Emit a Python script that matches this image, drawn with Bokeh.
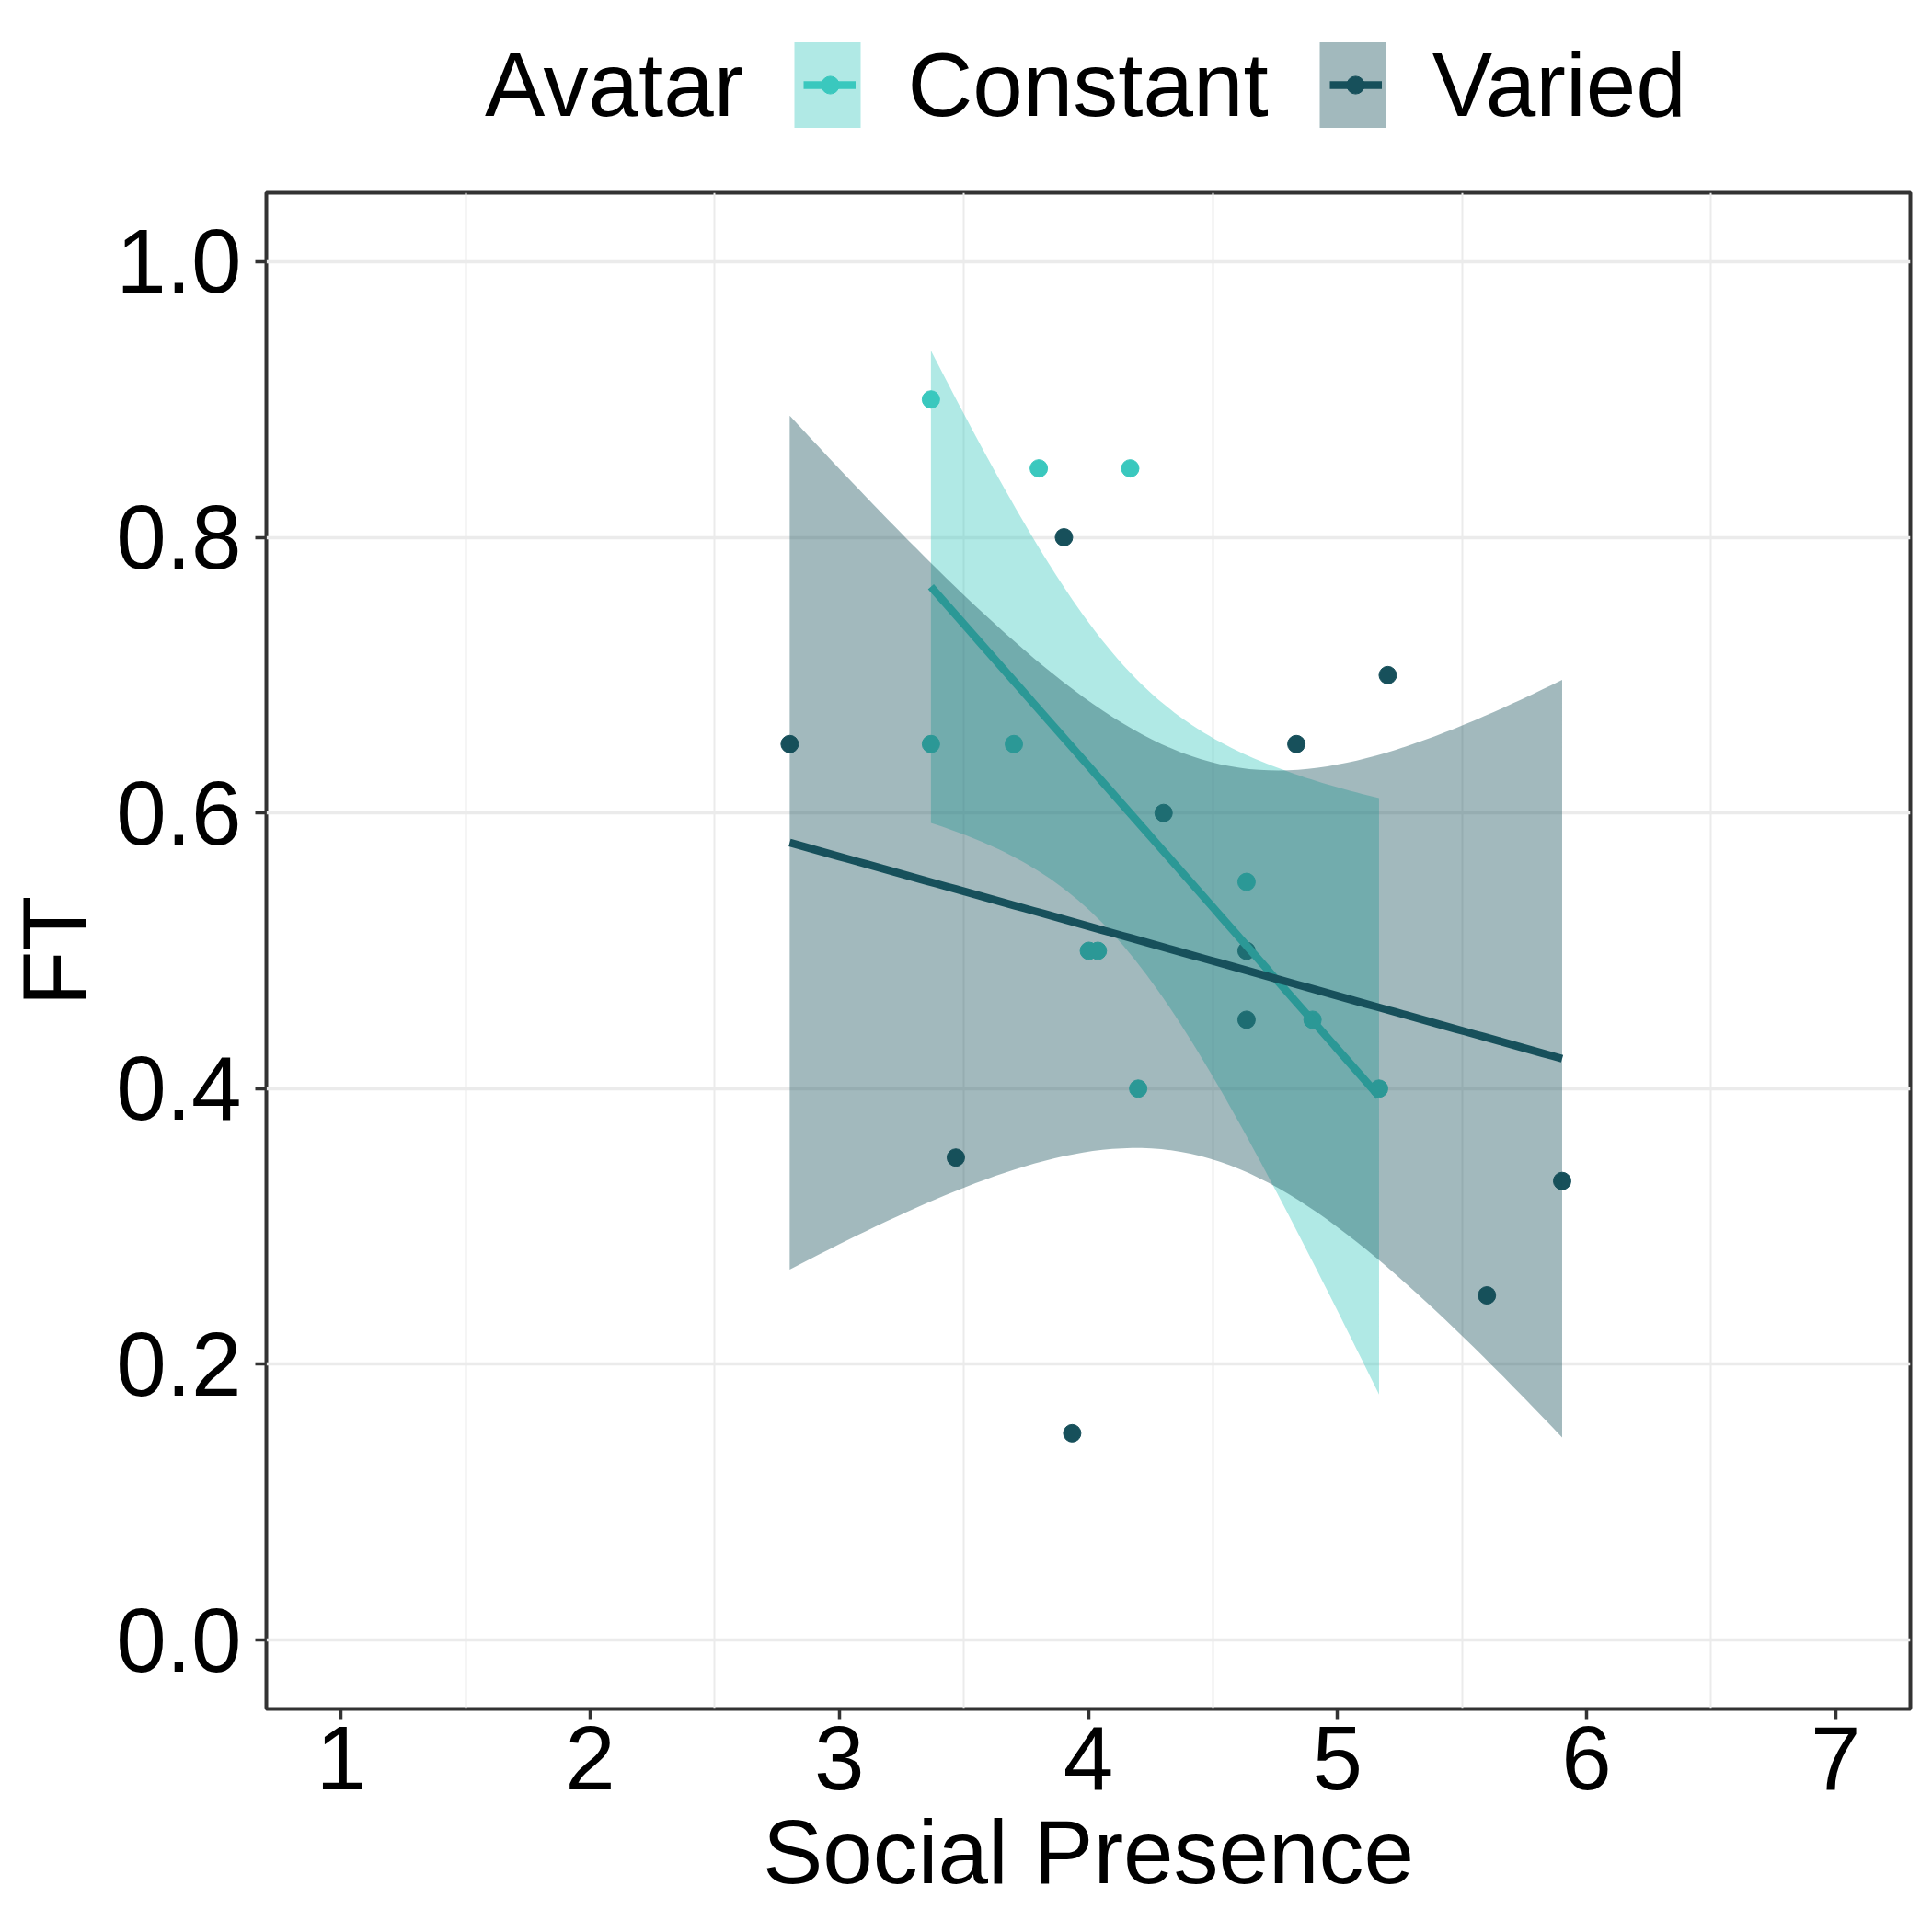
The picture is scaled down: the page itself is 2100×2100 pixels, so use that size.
import numpy as np
from bokeh.plotting import figure
from bokeh.layouts import column
from bokeh.models import Range1d, FixedTicker, PrintfTickFormatter, Legend, LegendItem
from bokeh.core.properties import value
from bokeh.embed import file_html
from bokeh.resources import INLINE

# ---- data ----
legend_title = "Avatar"
groups = ["Constant", "Varied"]
constant_x = [3.368, 3.801, 4.168, 3.368, 3.701, 4.002, 4.038, 4.200, 4.635, 4.900, 5.167]
constant_y = [0.90, 0.85, 0.85, 0.65, 0.65, 0.50, 0.50, 0.40, 0.55, 0.45, 0.40]
varied_x = [2.801, 3.902, 5.202, 4.835, 4.302, 4.635, 4.635, 3.468, 3.935, 5.600, 5.902]
varied_y = [0.65, 0.80, 0.70, 0.65, 0.60, 0.50, 0.45, 0.35, 0.15, 0.25, 0.333]
x_ticks = [1, 2, 3, 4, 5, 6, 7]
x_minor_grid = [1.5, 2.5, 3.5, 4.5, 5.5, 6.5]
y_ticks = [0.0, 0.2, 0.4, 0.6, 0.8, 1.0]

# ---- style / layout ----
FONT = "Liberation Sans"
FS = "98px"
COL_CONST = "#3AC8BE"
COL_VAR = "#17505B"
T975 = {9: 2.2622, 8: 2.3060, 10: 2.2281}
W = 2092
LEG_H = 180
FRAME_LEFT = 289
LEG_LEFT = 395          # left edge of the legend block (page px)
LEG_VY = LEG_H - 150    # legend bottom offset inside the strip
KEY_GW, KEY_GH = 90, 116
KEY_CENTERS = [901.5, 1473.0]   # centres of the two legend keys (page px)


def lm_band(x, y, n=80):
    x = np.asarray(x, float)
    y = np.asarray(y, float)
    b, a = np.polyfit(x, y, 1)
    xs = np.linspace(x.min(), x.max(), n)
    fit = a + b * xs
    resid = y - (a + b * x)
    df = len(x) - 2
    s = np.sqrt((resid ** 2).sum() / df)
    sxx = ((x - x.mean()) ** 2).sum()
    se = s * np.sqrt(1.0 / len(x) + (xs - x.mean()) ** 2 / sxx)
    t = T975[df]
    return xs, fit, fit - t * se, fit + t * se


def draw_group(fig, gx, gy, color):
    return fig.scatter(gx, gy, size=19, color=color)


def draw_smooth(fig, gx, gy, color):
    xs, fit, lo, hi = lm_band(gx, gy)
    band = fig.varea(x=xs, y1=lo, y2=hi, fill_color=color, fill_alpha=0.4)
    line = fig.line(xs, fit, line_width=8.5, line_color=color)
    return band, line


# ================= main plot =================
p = figure(width=W, height=2092 - LEG_H, output_backend="svg", toolbar_location=None,
           x_range=Range1d(0.7, 7.3), y_range=Range1d(-0.05, 1.05),
           min_border_left=FRAME_LEFT, min_border_right=16, min_border_top=209 - LEG_H,
           min_border_bottom=235)
p.background_fill_color = "white"
p.border_fill_color = "white"
p.outline_line_color = "#333333"
p.outline_line_width = 4

p.xgrid.ticker = FixedTicker(ticks=x_minor_grid)
p.xgrid.grid_line_color = "#EBEBEB"
p.xgrid.grid_line_width = 2
p.ygrid.ticker = FixedTicker(ticks=y_ticks)
p.ygrid.grid_line_color = "#EBEBEB"
p.ygrid.grid_line_width = 3.5

p.xaxis.ticker = FixedTicker(ticks=x_ticks)
p.yaxis.ticker = FixedTicker(ticks=y_ticks)
p.xaxis.formatter = PrintfTickFormatter(format="%d")
p.yaxis.formatter = PrintfTickFormatter(format="%.1f")
for ax in (p.xaxis[0], p.yaxis[0]):
    ax.axis_line_color = None
    ax.major_tick_line_color = "#333333"
    ax.major_tick_line_width = 3.5
    ax.major_tick_out = 12
    ax.major_tick_in = 0
    ax.minor_tick_line_color = None
    ax.major_label_text_font = FONT
    ax.major_label_text_font_size = FS
    ax.major_label_text_color = "black"
    ax.axis_label_text_font = FONT
    ax.axis_label_text_font_size = FS
    ax.axis_label_text_font_style = "normal"
    ax.axis_label_text_color = "black"
p.xaxis.axis_label = "Social Presence"
p.yaxis.axis_label = "FT"
p.xaxis.major_label_standoff = 7
p.xaxis.axis_label_standoff = 10
p.yaxis.major_label_standoff = 15
p.yaxis.axis_label_standoff = 9

# points first, ribbons over them (as in the reference)
draw_group(p, constant_x, constant_y, COL_CONST)
draw_group(p, varied_x, varied_y, COL_VAR)
draw_smooth(p, constant_x, constant_y, COL_CONST)
draw_smooth(p, varied_x, varied_y, COL_VAR)

# ================= legend strip (above the panel) =================
leg = figure(width=W, height=LEG_H, output_backend="svg", toolbar_location=None,
             x_axis_location=None, y_axis_location=None, min_border=0,
             x_range=Range1d(100, 101), y_range=Range1d(100, 101))
leg.outline_line_color = None
leg.background_fill_color = "white"
leg.border_fill_color = "white"
leg.xgrid.visible = False
leg.ygrid.visible = False

# the same glyphs, out of this strip's view: only their legend keys show
k_pts_c = draw_group(leg, constant_x, constant_y, COL_CONST)
k_pts_v = draw_group(leg, varied_x, varied_y, COL_VAR)
k_band_c, k_line_c = draw_smooth(leg, constant_x, constant_y, COL_CONST)
k_band_v, k_line_v = draw_smooth(leg, varied_x, varied_y, COL_VAR)

main_legend = Legend(
    items=[
        LegendItem(label=value(legend_title), renderers=[]),
        LegendItem(label=value(groups[0]), renderers=[k_band_c]),
        LegendItem(label=value(groups[1]), renderers=[k_band_v]),
    ],
    orientation="horizontal",
    location=(LEG_LEFT - FRAME_LEFT, LEG_VY),
    glyph_width=KEY_GW, glyph_height=KEY_GH,
    label_standoff=42, spacing=46,
    padding=0, margin=0,
    label_text_font=FONT, label_text_font_size=FS, label_text_color="black",
    background_fill_alpha=0, border_line_color=None,
)
leg.add_layout(main_legend, "center")


def key_legend(renderer, gw, cx):
    return Legend(
        items=[LegendItem(label=value(" "), renderers=[renderer])],
        location=(float(cx - gw / 2 - FRAME_LEFT), float(LEG_VY)),
        glyph_width=gw, glyph_height=KEY_GH,
        label_standoff=0, label_width=0, label_height=0, label_text_font_size="1px",
        padding=0, margin=0, spacing=0,
        background_fill_alpha=0, border_line_color=None,
    )


# shorter line across each key, then the key's point (sized 0.4 x key width)
for r, cx in zip([k_line_c, k_line_v], KEY_CENTERS):
    leg.add_layout(key_legend(r, 57, cx), "center")
for r, cx in zip([k_pts_c, k_pts_v], KEY_CENTERS):
    leg.add_layout(key_legend(r, 48, cx), "center")

layout = column(leg, p, spacing=0)
open("out.html", "w").write(file_html(layout, INLINE))
